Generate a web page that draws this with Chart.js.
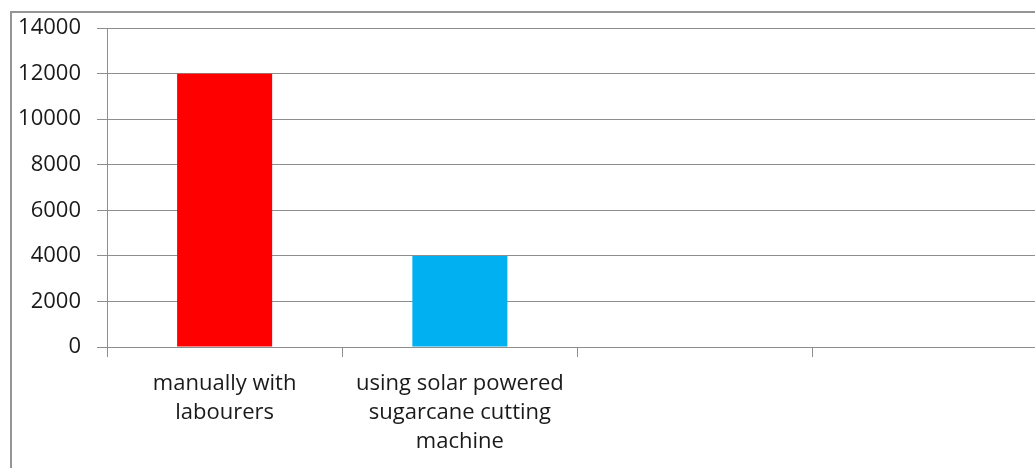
<!DOCTYPE html>
<html>
<head>
<meta charset="utf-8">
<script src="https://cdn.jsdelivr.net/npm/chart.js@4/dist/chart.umd.min.js"></script>
<style>
  html, body { margin: 0; padding: 0; background: #fff; overflow: hidden; }
  #wrap { position: absolute; left: 0; top: 0; width: 1048px; height: 468px; }
  #frame {
    position: absolute; left: 10px; top: 11px; width: 1100px; height: 500px;
    border-left: 2px solid #959595; border-top: 2px solid #959595;
    pointer-events: none;
  }
</style>
</head>
<body>
<div id="wrap"><canvas id="cv"></canvas></div>
<div id="frame"></div>
<script>
// harvesting cost by method (two real categories, two empty slots)
const categories = [
  ['manually with', 'labourers'],
  ['using solar powered', 'sugarcane cutting', 'machine'],
  '',
  ''
];
const costs = [12000, 4000, null, null];
const barColors = ['#FF0000', '#00B0F0', '#FF0000', '#FF0000'];
const yMin = 0;
const yMax = 14000;
const yStep = 2000;

const gridColor = '#8e8e8e';
const family = '"Open Sans", "Liberation Sans", sans-serif';

const ctx = document.getElementById('cv');
new Chart(ctx, {
  type: 'bar',
  data: {
    labels: categories,
    datasets: [{
      data: costs,
      backgroundColor: barColors,
      borderWidth: 0,
      categoryPercentage: 1,
      barPercentage: 0.404
    }]
  },
  options: {
    responsive: true,
    maintainAspectRatio: false,
    animation: false,
    layout: { padding: { top: 28, left: 0, right: 0, bottom: 0 } },
    plugins: { legend: { display: false }, tooltip: { enabled: false } },
    scales: {
      x: {
        grid: {
          offset: true,
          drawOnChartArea: false,
          drawTicks: true,
          tickLength: 10,
          color: gridColor
        },
        border: { color: gridColor },
        ticks: {
          color: '#1a1a1a',
          font: { family: family, size: 22, lineHeight: 1.32 },
          padding: 12,
          maxRotation: 0,
          autoSkip: false
        },
        afterFit: s => { s.height = 121; }
      },
      y: {
        min: yMin,
        max: yMax,
        grid: { color: gridColor, tickLength: 10 },
        border: { color: gridColor },
        ticks: {
          stepSize: yStep,
          color: '#1a1a1a',
          font: { family: family, size: 22, lineHeight: 1.1 },
          padding: 16,
          callback: v => String(v)
        },
        afterFit: s => { s.width = 107; }
      }
    }
  }
});
</script>
</body>
</html>
